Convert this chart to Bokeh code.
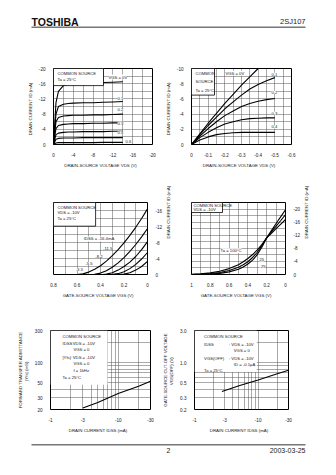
import math
from bokeh.plotting import figure
from bokeh.models import Range1d, FixedTicker, Label, BoxAnnotation
from bokeh.layouts import column, row
from bokeh.embed import file_html
from bokeh.resources import INLINE

# ======================= DATA =======================
# (1) ID - VDS
c1_vds = [0, -0.5, -1, -2, -3, -4, -6, -8, -10, -12, -14]
c1_id_vgs00 = [0, -11.0, -14.0, -15.5, -15.9, -16.0, -16.1, -16.2, -16.3, -16.4, -16.5]
c1_id_vgs01 = [0, -8.0, -10.0, -10.6, -10.8, -10.9, -11.0, -11.0, -11.1, -11.2, -11.3]
c1_id_vgs02 = [0, -6.0, -7.1, -7.5, -7.6, -7.7, -7.7, -7.8, -7.8, -7.9, -8.0]
c1_id_vgs03 = [0, -4.2, -5.0, -5.3, -5.4, -5.5, -5.5, -5.6, -5.6, -5.7, -5.7]
c1_id_vgs04 = [0, -2.6, -3.0, -3.2, -3.3, -3.3, -3.4, -3.4, -3.4, -3.5, -3.5]
c1_id_vgs05 = [0, -1.4, -1.6, -1.7, -1.7, -1.7, -1.8, -1.8, -1.8, -1.8, -1.8]
c1_id_vgs06 = [0, -0.4, -0.5, -0.5, -0.5, -0.5, -0.5, -0.5, -0.55, -0.55, -0.55]
c1_curve_labels = ["0.1", "0.2", "0.3", "0.4", "0.6"]
c1_xticks = [0, -4, -8, -12, -16, -20]
c1_yticks = [0, -4, -8, -12, -16, -20]

# (2) ID - VDS (low voltage region)
c2_vds = [0, -0.05, -0.1, -0.15, -0.2, -0.25, -0.3, -0.35, -0.4, -0.45, -0.5]
c2_id_vgs00 = [0, -1.4, -2.8, -4.1, -5.4, -6.6, -7.8, -8.9, -10.0, -11.0, -11.9]
c2_id_vgs01 = [0, -1.3, -2.5, -3.6, -4.7, -5.6, -6.5, -7.3, -7.9, -8.4, -8.8]
c2_id_vgs02 = [0, -1.1, -2.1, -3.0, -3.8, -4.4, -5.0, -5.4, -5.7, -5.9, -6.05]
c2_id_vgs03 = [0, -0.9, -1.6, -2.2, -2.7, -3.0, -3.25, -3.4, -3.45, -3.5, -3.5]
c2_id_vgs04 = [0, -0.6, -1.0, -1.3, -1.45, -1.55, -1.6, -1.6, -1.6, -1.6, -1.6]
c2_curve_labels = ["0.1", "0.2", "0.3", "0.4"]
c2_xticks = [0, -0.1, -0.2, -0.3, -0.4, -0.5, -0.6]
c2_yticks = [0, -2, -4, -6, -8, -10]

# (3) ID - VGS
c3_vgs_a = [0.6, 0.55, 0.5, 0.45, 0.4, 0.35, 0.3, 0.25, 0.2, 0.15, 0.1, 0.05, 0]
c3_id_a = [0, -0.15, -0.6, -1.3, -2.2, -3.35, -4.7, -6.2, -7.9, -9.8, -11.8, -14.0, -16.4]
c3_vgs_b = [0.47, 0.45, 0.4, 0.35, 0.3, 0.25, 0.2, 0.15, 0.1, 0.05, 0]
c3_id_b = [0, -0.05, -0.35, -0.95, -1.8, -2.9, -4.2, -5.8, -7.5, -9.4, -11.5]
c3_vgs_c = [0.38, 0.35, 0.3, 0.25, 0.2, 0.15, 0.1, 0.05, 0]
c3_id_c = [0, -0.1, -0.45, -1.1, -2.0, -3.1, -4.5, -6.2, -8.2]
c3_vgs_d = [0.31, 0.25, 0.2, 0.15, 0.1, 0.05, 0]
c3_id_d = [0, -0.21, -0.69, -1.47, -2.52, -3.87, -5.5]
c3_vgs_e = [0.24, 0.2, 0.15, 0.1, 0.05, 0]
c3_id_e = [0, -0.1, -0.45, -1.1, -2.0, -3.3]
c3_curve_labels = ["IDSS = -16.4mA", "-11.5", "-8.2", "-5.5", "-3.3"]
c3_xticks = [0.8, 0.6, 0.4, 0.2, 0]
c3_yticks = [0, -4, -8, -12, -16]

# (4) ID - VGS (temperature dependency)
c4_vgs = [1.0, 0.9, 0.8, 0.7, 0.6, 0.5, 0.45, 0.4, 0.35, 0.3, 0.25, 0.2, 0.15, 0.1, 0.05, 0.0]
c4_id_100 = [-0.05, -0.2, -0.5, -1.0, -1.8, -3.0, -3.9, -4.9, -6.1, -7.5, -9.2, -11.2, -12.6, -14.0, -15.4, -16.8]
c4_id_25 = [0, -0.1, -0.3, -0.6, -1.2, -2.2, -3.0, -3.9, -5.2, -6.8, -8.9, -11.2, -13.0, -14.8, -16.5, -18.3]
c4_id_m25 = [0, -0.05, -0.15, -0.35, -0.8, -1.6, -2.3, -3.2, -4.4, -6.1, -8.4, -11.2, -13.4, -15.6, -17.7, -19.8]
c4_curve_labels = ["Ta = 100°C", "25", "-25"]
c4_xticks = [1.0, 0.8, 0.6, 0.4, 0.2, 0]
c4_yticks = [0, -4, -8, -12, -16, -20]

# (5) |Yfs| - IDSS
c5_idss = [3, 5, 10, 20, 30]
c5_yfs = [21, 25.5, 34.5, 44.5, 52.5]
c5_xticks = [1, 3, 10, 30]
c5_yticks = [20, 30, 50, 100, 300]

# (6) VGS(OFF) - IDSS
c6_idss = [2.7, 5, 10, 20, 30]
c6_vgsoff = [0.37, 0.45, 0.55, 0.68, 0.77]
c6_xticks = [1, 3, 10, 30]
c6_yticks = [0.2, 0.3, 0.5, 1.0, 3.0]

# ======================= STYLE =======================
SANS = "Liberation Sans"
SERIF = "Liberation Serif"
INK = "#1a1a1a"
GRID = "#555555"


class Chart:
    def __init__(self, ox, oy, w, h, frame, xr, yr, xlog=False, ylog=False, yloc="left"):
        self.fl, self.ft, self.fr, self.fb = frame
        self.xr, self.yr, self.xlog, self.ylog = xr, yr, xlog, ylog
        p = figure(width=w, height=h, x_range=Range1d(*xr), y_range=Range1d(*yr),
                   x_axis_type="log" if xlog else "linear",
                   y_axis_type="log" if ylog else "linear",
                   y_axis_location=yloc, output_backend="svg", toolbar_location=None,
                   min_border_left=self.fl - ox, min_border_right=ox + w - self.fr,
                   min_border_top=self.ft - oy, min_border_bottom=oy + h - self.fb)
        p.outline_line_color = "black"
        p.outline_line_width = 1
        p.background_fill_color = "white"
        p.border_fill_color = "white"
        for ax in p.axis:
            ax.axis_line_color = None
            ax.major_tick_line_color = None
            ax.minor_tick_line_color = None
            ax.major_label_text_font = SANS
            ax.major_label_text_font_size = "4.6px"
            ax.major_label_text_color = INK
            ax.major_label_standoff = 2
            ax.axis_label_text_font = SANS
            ax.axis_label_text_font_size = "4.4px"
            ax.axis_label_text_font_style = "normal"
            ax.axis_label_text_color = INK
            ax.axis_label_standoff = 3
        if yloc == "right":
            p.yaxis.axis_label_orientation = math.pi / 2
        for g in (p.xgrid[0], p.ygrid[0]):
            g.grid_line_color = GRID
            g.grid_line_width = 0.5
        self.p = p

    def X(self, px):
        f = (px - self.fl) / (self.fr - self.fl)
        a, b = self.xr
        if self.xlog:
            return 10 ** (math.log10(a) + f * (math.log10(b) - math.log10(a)))
        return a + f * (b - a)

    def Y(self, py):
        f = (self.fb - py) / (self.fb - self.ft)
        a, b = self.yr
        if self.ylog:
            return 10 ** (math.log10(a) + f * (math.log10(b) - math.log10(a)))
        return a + f * (b - a)

    def ticks(self, xt, yt, xlab, ylab, xgrid, ygrid, fmtx=None, fmty=None):
        p = self.p
        p.xaxis.ticker = FixedTicker(ticks=xt)
        p.yaxis.ticker = FixedTicker(ticks=yt)
        p.xgrid.ticker = FixedTicker(ticks=xgrid)
        p.ygrid.ticker = FixedTicker(ticks=ygrid)
        p.xaxis.major_label_overrides = {t: (fmtx(t) if fmtx else str(t)) for t in xt}
        p.yaxis.major_label_overrides = {t: (fmty(t) if fmty else str(t)) for t in yt}
        p.xaxis.axis_label = xlab
        p.yaxis.axis_label = ylab

    def text(self, px, py, s, size="4.2px", align="left", font=SANS, bg=None, style="normal"):
        kw = {}
        if bg:
            kw = dict(background_fill_color=bg, background_fill_alpha=1.0)
        self.p.add_layout(Label(x=self.X(px), y=self.Y(py), text=s, text_font=font,
                                text_font_size=size, text_align=align, text_baseline="middle",
                                text_color=INK, text_font_style=style, **kw))

    def box(self, l, t, r, b, border=True):
        self.p.add_layout(BoxAnnotation(left=self.X(l), right=self.X(r), top=self.Y(t), bottom=self.Y(b),
                                        fill_color="white", fill_alpha=1.0,
                                        line_color="black" if border else None, line_width=0.8,
                                        line_alpha=1.0))

    def curve(self, xs, ys):
        self.p.line(xs, ys, line_color="black", line_width=1.1)


def fmt_num(t):
    if t == 0:
        return "0"
    if float(t).is_integer():
        return str(int(t))
    return str(t)


def grid_steps(start, step, n):
    return [round(start + i * step, 4) for i in range(n)]


def loggrid(lo_dec, hi_dec):
    out = []
    for d in range(lo_dec, hi_dec + 1):
        for m in range(1, 10):
            out.append(round(m * 10 ** d, 6))
    return out

# ======================= HEADER =======================
hdr = figure(width=336, height=50, x_range=Range1d(0, 336), y_range=Range1d(50, 0),
             output_backend="svg", toolbar_location=None, min_border=0)
hdr.axis.visible = False
hdr.grid.visible = False
hdr.outline_line_color = None
hdr.add_layout(Label(x=31, y=21, text="TOSHIBA", text_font=SANS, text_font_size="10.5px",
                     text_font_style="bold", text_baseline="middle", text_color="#111"))
hdr.add_layout(Label(x=305, y=21, text="2SJ107", text_font=SANS, text_font_size="7.5px",
                     text_align="right", text_baseline="middle", text_color="#222"))
hdr.add_layout(BoxAnnotation(left=31, right=305, top=26, bottom=27.6, fill_color="#777",
                             fill_alpha=1, line_color=None))

# ======================= CHART 1 =======================
c1 = Chart(0, 50, 160, 120, (53, 68, 152, 148), (0, -20), (0, -20))
c1.ticks(c1_xticks, c1_yticks, "DRAIN-SOURCE VOLTAGE   VDS   (V)", "DRAIN CURRENT   ID   (mA)",
         grid_steps(0, -2, 11), grid_steps(0, -2, 11), fmt_num, fmt_num)
for ys in (c1_id_vgs00, c1_id_vgs01, c1_id_vgs02, c1_id_vgs03, c1_id_vgs04, c1_id_vgs05, c1_id_vgs06):
    c1.curve(c1_vds, ys)
c1.box(53, 68, 103, 86)
c1.text(57, 73, "COMMON SOURCE")
c1.text(57, 80, "Ta = 25°C")
c1.text(108, 77, "VGS = 0V", bg="white")
for lab, py in zip(c1_curve_labels, (99.5, 111.5, 125.5, 135.5, 144.5)):
    c1.text(117 if lab != "0.6" else 125, py, lab, bg="white")
c1.text(102.5, 61, "ID – VDS", size="7.5px", align="center", font=SERIF)

# ======================= CHART 2 =======================
c2 = Chart(160, 50, 176, 120, (191, 68, 291, 148), (0, -0.6), (0, -10))
c2.ticks(c2_xticks, c2_yticks, "DRAIN-SOURCE VOLTAGE   VDS   (V)", "DRAIN CURRENT   ID   (mA)",
         grid_steps(0, -0.05, 13), grid_steps(0, -1, 11), fmt_num, fmt_num)
for ys in (c2_id_vgs00, c2_id_vgs01, c2_id_vgs02, c2_id_vgs03, c2_id_vgs04):
    c2.curve(c2_vds, ys)
c2.box(191, 68, 214, 96)
c2.text(195, 73, "COMMON")
c2.text(195, 82, "SOURCE")
c2.text(195, 91, "Ta = 25°C")
c2.text(225, 73, "VGS = 0V", bg="white")
for lab, py in zip(c2_curve_labels, (74, 93, 115, 129.5)):
    c2.text(271, py, lab, bg="white")
c2.text(210, 62, "ID – VDS", size="7.5px", align="center", font=SERIF)
c2.text(228, 62, "(LOW VOLTAGE REGION)", size="5px", font=SERIF)

# ======================= CHART 3 =======================
c3 = Chart(0, 170, 176, 130, (53, 202, 149, 281), (0.8, 0), (0, -18), yloc="right")
c3.ticks(c3_xticks, c3_yticks, "GATE-SOURCE VOLTAGE   VGS   (V)", "DRAIN CURRENT   ID   (mA)",
         grid_steps(0.8, -0.1, 9), grid_steps(0, -2, 10), fmt_num, fmt_num)
for xs, ys in ((c3_vgs_a, c3_id_a), (c3_vgs_b, c3_id_b), (c3_vgs_c, c3_id_c),
               (c3_vgs_d, c3_id_d), (c3_vgs_e, c3_id_e)):
    c3.curve(xs, ys)
c3.box(53, 202, 96, 228)
c3.text(57, 207, "COMMON SOURCE")
c3.text(57, 213.5, "VDS = -10V")
c3.text(57, 220, "Ta = 25°C")
for lab, (px, py) in zip(c3_curve_labels, ((115, 242), (113, 252), (103, 261), (93, 269), (83, 275.5))):
    c3.text(px, py, lab, align="right", bg="white")
c3.text(101, 195, "ID – VGS", size="7.5px", align="center", font=SERIF)

# ======================= CHART 4 =======================
c4 = Chart(176, 170, 160, 130, (191, 202, 285, 281), (1.0, 0), (0, -22), yloc="right")
c4.ticks(c4_xticks, c4_yticks, "GATE-SOURCE VOLTAGE   VGS   (V)", "DRAIN CURRENT   ID   (mA)",
         grid_steps(1.0, -0.1, 11), grid_steps(0, -2, 12), fmt_num, fmt_num)
for ys in (c4_id_100, c4_id_25, c4_id_m25):
    c4.curve(c4_vgs, ys)
c4.box(191, 202, 222, 213)
c4.text(193, 205, "COMMON SOURCE")
c4.text(193, 210, "VDS = -10V")
c4.text(241, 255, c4_curve_labels[0], align="right", bg="white")
c4.text(259, 265, c4_curve_labels[1], bg="white")
c4.text(259, 272.5, c4_curve_labels[2], bg="white")
c4.text(241, 190.5, "ID – VGS", size="7px", align="center", font=SERIF)
c4.text(241, 197, "(TEMPERATURE DEPENDENCY)", size="5px", align="center", font=SERIF)

# ======================= CHART 5 =======================
c5 = Chart(0, 300, 160, 135, (50, 330, 150, 410), (1, 30), (20, 300), xlog=True, ylog=True)
c5.ticks(c5_xticks, c5_yticks, "DRAIN CURRENT   IDSS   (mA)",
         "FORWARD TRANSFER ADMITTANCE\n|Yfs|   (mS)",
         [x for x in loggrid(0, 1) if x <= 30], [y for y in loggrid(1, 2) if 20 <= y <= 300],
         lambda t: "-" + str(t), lambda t: str(t))
c5.curve(c5_idss, c5_yfs)
c5.box(50, 330, 107, 385, border=False)
c5.text(62, 336, "COMMON SOURCE")
c5.text(62, 343.5, "IDSS")
c5.text(70, 343.5, ":  VDS = -10V")
c5.text(73, 349.5, "VGS = 0")
c5.text(62, 357.5, "|Yfs|")
c5.text(70, 357.5, ":  VDS = -10V")
c5.text(73, 363.5, "VGS = 0")
c5.text(73, 370, "f = 1kHz")
c5.text(62, 378, "Ta = 25°C")
c5.text(100, 325, "|Yfs| – IDSS", size="7px", align="center", font=SERIF)

# ======================= CHART 6 =======================
c6 = Chart(160, 300, 176, 135, (190, 330, 288, 410), (1, 30), (0.2, 3.0), xlog=True, ylog=True)
c6.ticks(c6_xticks, c6_yticks, "DRAIN CURRENT   IDSS   (mA)",
         "GATE-SOURCE CUT-OFF VOLTAGE\nVGS(OFF)   (V)",
         [x for x in loggrid(0, 1) if x <= 30], [y for y in loggrid(-1, 0) if 0.2 <= y <= 3.0],
         lambda t: "-" + str(t), lambda t: ("%.1f" % t))
c6.curve(c6_idss, c6_vgsoff)
c6.box(190, 330, 255, 372, border=False)
c6.text(200, 336, "COMMON SOURCE")
c6.text(200, 344, "IDSS")
c6.text(226, 344, ":  VDS = -10V")
c6.text(231, 350, "VGS = 0")
c6.text(200, 358, "VGS(OFF)")
c6.text(226, 358, ":  VDS = -10V")
c6.text(231, 364, "ID = -0.1μA")
c6.text(200, 371, "Ta = 25°C")
c6.text(238, 325, "VGS(OFF) – IDSS", size="7px", align="center", font=SERIF)

# ======================= FOOTER =======================
ftr = figure(width=336, height=40, x_range=Range1d(0, 336), y_range=Range1d(40, 0),
             output_backend="svg", toolbar_location=None, min_border=0)
ftr.axis.visible = False
ftr.grid.visible = False
ftr.outline_line_color = None
ftr.add_layout(BoxAnnotation(left=31, right=305, top=8.5, bottom=10, fill_color="#777",
                             fill_alpha=1, line_color=None))
ftr.add_layout(Label(x=168, y=15, text="2", text_font=SANS, text_font_size="7px",
                     text_align="center", text_baseline="middle", text_color="#222"))
ftr.add_layout(Label(x=305, y=15, text="2003-03-25", text_font=SANS, text_font_size="7px",
                     text_align="right", text_baseline="middle", text_color="#222"))

page = column(hdr, row(c1.p, c2.p), row(c3.p, c4.p), row(c5.p, c6.p), ftr)
open("out.html", "w").write(file_html(page, INLINE))
